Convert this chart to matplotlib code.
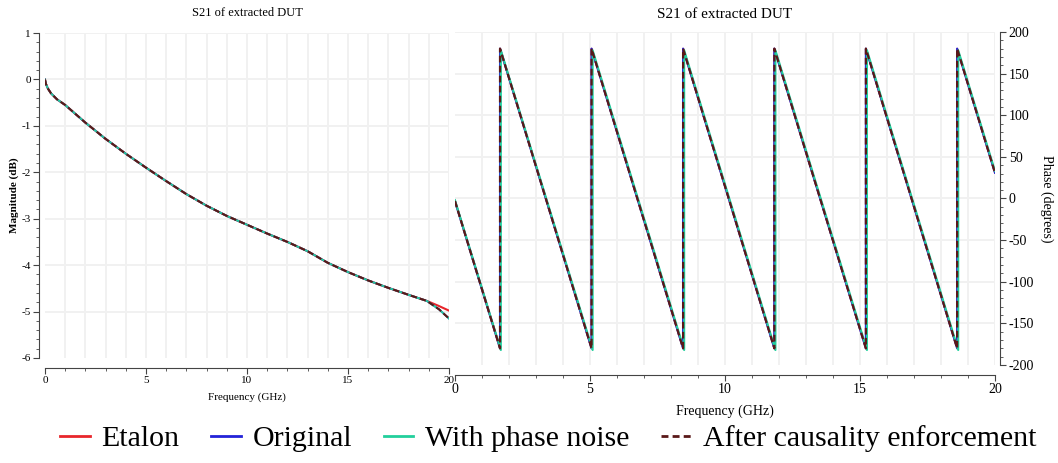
import matplotlib
matplotlib.use("Agg")
import matplotlib.pyplot as plt
from matplotlib.ticker import MultipleLocator

plt.rcParams["font.family"] = ["Liberation Serif", "DejaVu Serif"]
plt.rcParams["axes.unicode_minus"] = False

# Magnitude of S21 (dB)
freq_mag = [0, 0.05, 0.15, 0.3, 0.6, 1.0, 1.5, 2.0, 3.0, 4.0, 5.0, 6.0, 7.0, 8.0,
            9.0, 10.0, 11.0, 12.0, 13.0, 14.0, 15.0, 16.0, 17.0, 18.0, 18.9, 19.5, 20.0]
mag_etalon = [0, -0.1, -0.2, -0.3, -0.43, -0.55, -0.74, -0.93, -1.28, -1.6, -1.9, -2.19,
              -2.47, -2.72, -2.94, -3.13, -3.32, -3.5, -3.7, -3.95, -4.15, -4.33, -4.49,
              -4.64, -4.77, -4.88, -4.98]
mag_extracted = [0, -0.1, -0.2, -0.3, -0.43, -0.55, -0.74, -0.93, -1.28, -1.6, -1.9, -2.19,
                 -2.47, -2.72, -2.94, -3.13, -3.32, -3.5, -3.7, -3.95, -4.15, -4.33, -4.49,
                 -4.64, -4.77, -4.95, -5.15]

# Phase of S21 (degrees), vertices of the wrapped sawtooth
freq_phase = [0, 1.67, 1.67, 5.06, 5.06, 8.45, 8.45, 11.83, 11.83, 15.22, 15.22,
              18.6, 18.6, 20]
phase_ref = [-3, -180, 180, -180, 180, -180, 180, -180, 180, -180, 180, -180, 180, 31]
freq_phase_noise = [0, 1.7, 1.7, 5.1, 5.1, 8.49, 8.49, 11.87, 11.87, 15.26, 15.26,
                    18.64, 18.64, 20]
phase_noise = [-2, -182, 178, -182, 178, -182, 178, -182, 178, -182, 178, -182, 178, 33]

labels = ["Etalon", "Original", "With phase noise", "After causality enforcement"]
colors = ["#e8262b", "#2323d8", "#22cf9c", "#5a1818"]

fig = plt.figure(figsize=(10.58, 4.63), dpi=100)
ax1 = fig.add_axes([0.0425, 0.2268, 0.3819, 0.7019])
ax2 = fig.add_axes([0.430, 0.2117, 0.5104, 0.7192])

grid_kw = dict(color="#f1f1f1", linewidth=1.4)

# left: magnitude
ax1.plot(freq_mag, mag_etalon, color=colors[0], lw=1.5)
ax1.plot(freq_mag, mag_extracted, color=colors[1], lw=1.3)
ax1.plot(freq_mag, mag_extracted, color=colors[2], lw=1.3)
ax1.plot(freq_mag, mag_extracted, color=colors[3], lw=1.5, ls=(0, (3, 1.5)))
ax1.set_xlim(0, 20)
ax1.set_ylim(-6, 1)
ax1.xaxis.set_major_locator(MultipleLocator(5))
ax1.xaxis.set_minor_locator(MultipleLocator(1))
ax1.yaxis.set_major_locator(MultipleLocator(1))
ax1.yaxis.set_minor_locator(MultipleLocator(0.2))
for x in range(1, 21):
    ax1.axvline(x, **grid_kw, zorder=0)
for y in range(-5, 2):
    ax1.axhline(y, **grid_kw, zorder=0)
ax1.spines[["top", "right"]].set_visible(False)
ax1.spines["left"].set_position(("outward", 4))
ax1.spines["bottom"].set_position(("outward", 7))
for s in ("left", "bottom"):
    ax1.spines[s].set_color("#444444")
ax1.tick_params(which="major", length=4, labelsize=8, color="#444444", pad=2)
ax1.tick_params(which="minor", length=2, color="#444444")
ax1.set_title("S21 of extracted DUT", fontsize=9, pad=12)
ax1.set_xlabel("Frequency (GHz)", fontsize=8, labelpad=5)
ax1.set_ylabel("Magnitude (dB)", fontsize=8, fontweight="bold", labelpad=2)

# right: phase
ax2.plot(freq_phase, phase_ref, color=colors[0], lw=1.3)
ax2.plot(freq_phase, phase_ref, color=colors[1], lw=1.5)
ax2.plot(freq_phase_noise, phase_noise, color=colors[2], lw=1.5)
ax2.plot(freq_phase, phase_ref, color=colors[3], lw=1.6, ls=(0, (3, 1.5)))
ax2.set_xlim(0, 20)
ax2.set_ylim(-200, 200)
ax2.xaxis.set_major_locator(MultipleLocator(5))
ax2.xaxis.set_minor_locator(MultipleLocator(1))
ax2.yaxis.set_major_locator(MultipleLocator(50))
ax2.yaxis.set_minor_locator(MultipleLocator(10))
for x in range(1, 21):
    ax2.axvline(x, **grid_kw, zorder=0)
for y in range(-150, 201, 50):
    ax2.axhline(y, **grid_kw, zorder=0)
ax2.yaxis.tick_right()
ax2.yaxis.set_label_position("right")
ax2.spines[["top", "left"]].set_visible(False)
ax2.spines["right"].set_position(("outward", 4))
ax2.spines["bottom"].set_position(("outward", 7))
for s in ("right", "bottom"):
    ax2.spines[s].set_color("#444444")
ax2.tick_params(which="major", length=4, labelsize=10, color="#444444", pad=2)
ax2.tick_params(which="minor", length=2, color="#444444")
ax2.set_title("S21 of extracted DUT", fontsize=11, pad=10)
ax2.set_xlabel("Frequency (GHz)", fontsize=10, labelpad=6)
ax2.set_ylabel("Phase (degrees)", fontsize=10, rotation=270, labelpad=14)

handles = [
    plt.Line2D([], [], color=colors[0], lw=2),
    plt.Line2D([], [], color=colors[1], lw=2),
    plt.Line2D([], [], color=colors[2], lw=2),
    plt.Line2D([], [], color=colors[3], lw=2, ls=(0, (2.5, 1.5))),
]
fig.legend(handles, labels, loc="center", bbox_to_anchor=(0.518, 0.052), ncol=4,
           frameon=False, fontsize=21.5, handlelength=1.0, handletextpad=0.4,
           columnspacing=1.05, borderpad=0)

fig.savefig("out.png", dpi=100)
